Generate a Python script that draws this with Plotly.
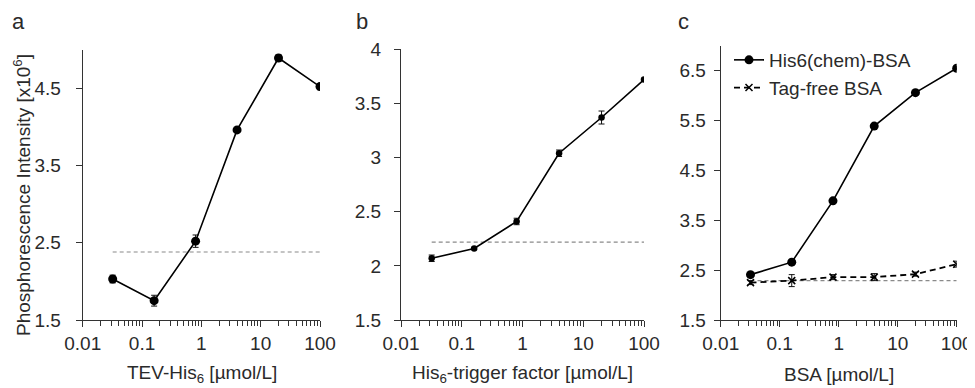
import plotly.graph_objects as go

# ---------------- data ----------------
conc = [0.032, 0.16, 0.8, 4, 20, 100]
tev_his6 = [2.03, 1.75, 2.52, 3.96, 4.89, 4.52]
tev_his6_err = [0.05, 0.07, 0.08, 0.03, 0.04, 0.04]
tev_baseline = [2.38, 2.38]

trigger = [2.07, 2.16, 2.41, 3.04, 3.37, 3.72]
trigger_err = [0.03, 0.01, 0.03, 0.03, 0.06, 0.01]
trigger_baseline = [2.22, 2.22]

his6_bsa = [2.41, 2.66, 3.89, 5.39, 6.06, 6.55]
his6_bsa_err = [0.03, 0.03, 0.03, 0.03, 0.03, 0.03]
tagfree_bsa = [2.25, 2.29, 2.36, 2.36, 2.42, 2.62]
tagfree_bsa_err = [0.04, 0.12, 0.05, 0.07, 0.04, 0.06]
bsa_baseline = [2.29, 2.29]

baseline_x = [0.032, 100]

x_tickvals = [0.01, 0.1, 1, 10, 100]
x_ticktext = ["0.01", "0.1", "1", "10", "100"]

# ---------------- figure ----------------
W, H = 975, 388
OFF = 8  # default page body margin
FONT = "Liberation Sans, Arial, sans-serif"
TXT = "#2a2a2a"
fig = go.Figure()

def px_x(p):
    return (p - OFF) / W

def px_y(p):
    return (H - (p - OFF)) / H

def add_series(xa, ya, y, err, size, name=None, showlegend=False, dash="solid",
               symbol="circle", lw=1.6, mline=0):
    fig.add_trace(go.Scatter(
        x=conc, y=y, xaxis=xa, yaxis=ya, mode="lines+markers", name=name,
        showlegend=showlegend,
        line=dict(color="black", width=lw, dash=dash),
        marker=dict(symbol=symbol, size=size, color="black",
                    line=dict(color="black", width=mline)),
        error_y=dict(type="data", array=err, visible=True, color="#111111",
                     thickness=1, width=3),
    ))

def add_baseline(xa, ya, y):
    fig.add_trace(go.Scatter(
        x=baseline_x, y=y, xaxis=xa, yaxis=ya, mode="lines", showlegend=False,
        line=dict(color="#8a8a8a", width=1.2, dash="4px,3px"), hoverinfo="skip",
    ))

# panel a
add_baseline("x", "y", tev_baseline)
add_series("x", "y", tev_his6, tev_his6_err, 9)
# panel b
add_baseline("x2", "y2", trigger_baseline)
add_series("x2", "y2", trigger, trigger_err, 6.5)
# panel c
add_baseline("x3", "y3", bsa_baseline)
add_series("x3", "y3", his6_bsa, his6_bsa_err, 9, name="His6(chem)-BSA", showlegend=True)
add_series("x3", "y3", tagfree_bsa, tagfree_bsa_err, 7, name="Tag-free BSA",
           showlegend=True, dash="6px,4px", symbol="x-thin", lw=1.8, mline=1.5)

minor_vals = [m * 10 ** e for e in range(-2, 2) for m in range(2, 10)]

def xaxis(domain, anchor):
    return dict(
        type="log", range=[-2, 2], domain=domain, anchor=anchor, automargin=False,
        tickvals=x_tickvals, ticktext=x_ticktext,
        ticks="outside", ticklen=6, tickwidth=1, tickcolor="#333333",
        minor=dict(tickvals=minor_vals, ticks="outside", ticklen=5,
                   tickwidth=1, tickcolor="#333333", showgrid=False),
        showline=True, linecolor="#333333", linewidth=1,
        showgrid=False, zeroline=False,
        tickfont=dict(family=FONT, size=19, color=TXT),
    )

def yaxis(domain, anchor, rng, dtick, tick0, standoff):
    return dict(
        range=rng, domain=domain, anchor=anchor, dtick=dtick, tick0=tick0,
        automargin=False,
        ticks="outside", ticklen=6, tickwidth=1, tickcolor="#333333",
        ticklabelstandoff=standoff,
        showline=True, linecolor="#333333", linewidth=1,
        showgrid=False, zeroline=False,
        tickfont=dict(family=FONT, size=19, color=TXT),
    )

ybot = px_y(320)
fig.update_layout(
    template="none",
    width=W, height=H,
    margin=dict(l=0, r=0, t=0, b=0, autoexpand=False),
    paper_bgcolor="white", plot_bgcolor="white",
    font=dict(family=FONT, size=19, color=TXT),
    xaxis=xaxis([px_x(82.7), px_x(320)], "y"),
    yaxis=yaxis([ybot, px_y(49.5)], "x", [1.5, 5.0], 1, 1.5, 11),
    xaxis2=xaxis([px_x(401), px_x(644)], "y2"),
    yaxis2=yaxis([ybot, px_y(49.3)], "x2", [1.5, 4.0], 0.5, 1.5, 9),
    xaxis3=xaxis([px_x(720.7), px_x(956.7)], "y3"),
    yaxis3=yaxis([ybot, px_y(45.8)], "x3", [1.5, 7.0], 1, 1.5, 4),
    legend=dict(x=px_x(729), y=px_y(41), xanchor="left", yanchor="top",
                bgcolor="rgba(0,0,0,0)", font=dict(family=FONT, size=19, color=TXT),
                itemwidth=30, tracegroupgap=0),
    showlegend=True,
)

ann = [
    dict(text="a", x=px_x(18.5), y=px_y(8.5), xanchor="center", yanchor="top", size=22),
    dict(text="b", x=px_x(361.7), y=px_y(8.5), xanchor="center", yanchor="top", size=22),
    dict(text="c", x=px_x(683), y=px_y(8.5), xanchor="center", yanchor="top", size=22),
    dict(text="TEV-His<sub>6</sub> [µmol/L]", x=px_x(201.5), y=px_y(374),
         xanchor="center", yanchor="middle", size=19),
    dict(text="His<sub>6</sub>-trigger factor [µmol/L]", x=px_x(522.5), y=px_y(374),
         xanchor="center", yanchor="middle", size=19),
    dict(text="BSA [µmol/L]", x=px_x(838.7), y=px_y(374),
         xanchor="center", yanchor="middle", size=19),
]
for a in ann:
    fig.add_annotation(text=a["text"], x=a["x"], y=a["y"], xref="paper", yref="paper",
                       xanchor=a["xanchor"], yanchor=a["yanchor"], showarrow=False,
                       borderpad=0,
                       font=dict(family=FONT, size=a["size"], color=TXT))

fig.add_annotation(text="Phosphorescence Intensity [x10<sup>6</sup>]", textangle=-90,
                   x=px_x(22), y=px_y(195), xref="paper", yref="paper",
                   xanchor="center", yanchor="middle", showarrow=False,
                   font=dict(family=FONT, size=19, color=TXT))

fig.write_html("out.html")
